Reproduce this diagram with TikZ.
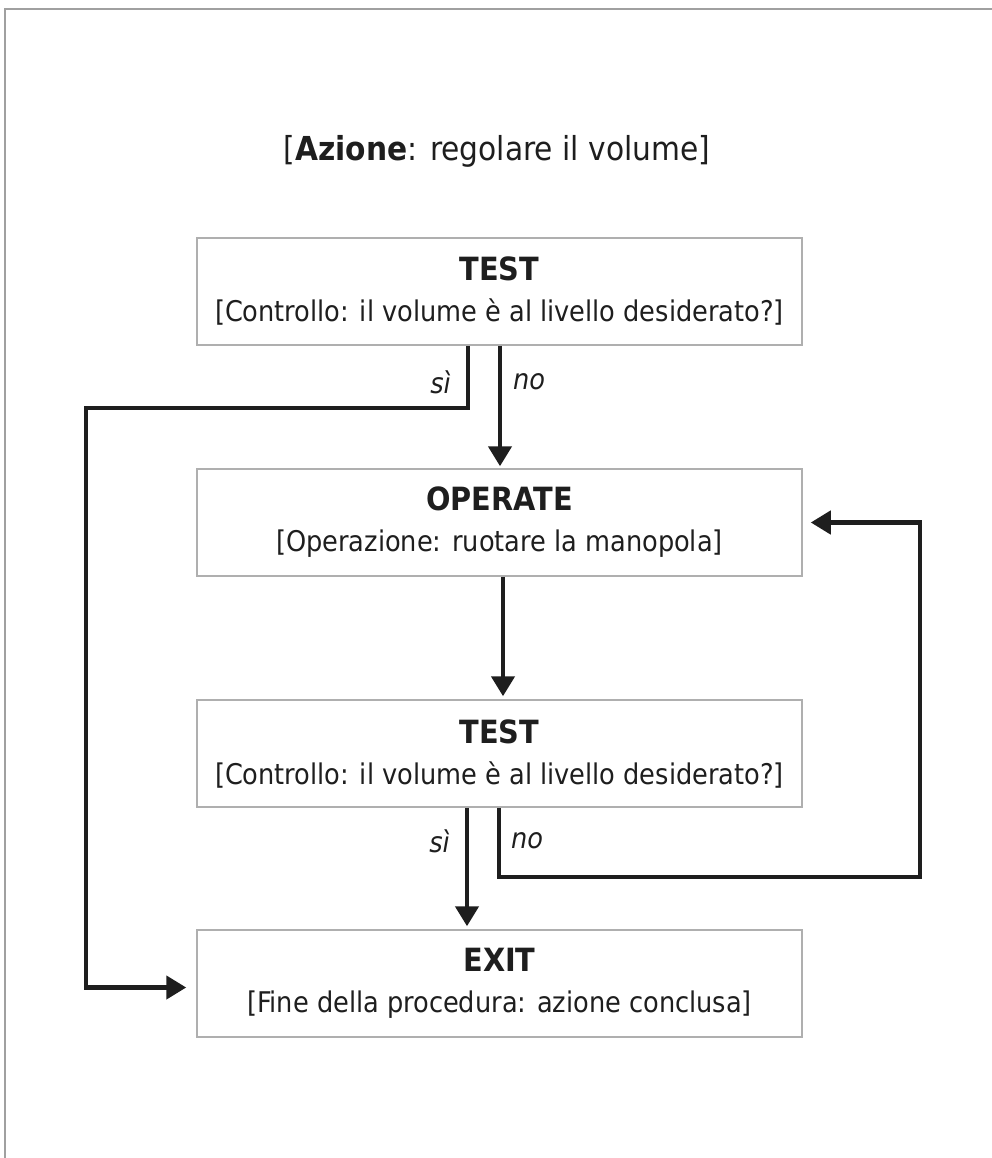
\documentclass[tikz,border=0pt]{standalone}
\usepackage{fontspec}
\setmainfont{DejaVu Sans Condensed}
\usetikzlibrary{arrows.meta}
\definecolor{boxgray}{RGB}{175,175,175}
\definecolor{framegray}{RGB}{160,160,160}
\definecolor{ink}{RGB}{30,30,30}
\newcommand{\boxtext}[2]{%
  {\fontsize{32}{41}\selectfont\bfseries #1}\\[0pt]%
  #2}

\begin{document}
\begin{tikzpicture}[x=1pt,y=-1pt,
  tote/.style={draw=boxgray,text=ink,line width=1.5pt,minimum width=605pt,minimum height=107pt,align=center,inner sep=0pt,
    font=\fontsize{28.5}{41}\selectfont},
  flow/.style={ink,line width=4.5pt,-{Triangle[length=20pt,width=23pt]}},
  answer/.style={text=ink,font=\fontsize{28.5}{34}\selectfont\itshape,inner sep=0pt}]
					%FRAME
					\useasboundingbox (0,0) rectangle (992,1158);
					\draw[framegray,line width=2pt] (5,1158) -- (5,9) -- (992,9);
					%TITLE
					\node[anchor=base,text=ink] (title) at (497,161) {\fontsize{33}{40}\selectfont[\textbf{Azione}: regolare il volume]};
					%BOXES
					\node[tote] (test1) at (499.5,291.5) {\boxtext{TEST}{[Controllo: il volume è al livello desiderato?]}};
					\node[tote] (operate) at (499.5,522.5) {\boxtext{OPERATE}{[Operazione: ruotare la manopola]}};
					\node[tote] (test2) at (499.5,753.5) {\boxtext{TEST}{[Controllo: il volume è al livello desiderato?]}};
					\node[tote] (exit) at (499.5,983.5) {\boxtext{EXIT}{[Fine della procedura: azione conclusa]}};
					%TURNS
					\coordinate (siup) at (468,408);
					\coordinate (sileft) at (86,408);
					\coordinate (nodown) at (499,877);
					\coordinate (noright) at (920,877);
					\coordinate (noline) at (500,0);
					\coordinate (opline) at (503,0);
					\coordinate (siline) at (467,0);
					%ARROWS
					\draw[flow,shorten >=10pt] (test1.south -| siup) -- (siup) -- (sileft) |- ([yshift=-4pt]exit.west);
					\draw[flow,shorten >=2pt] (test1.south -| noline) -- (operate.north -| noline);
					\draw[flow,shorten >=3pt] (operate.south -| opline) -- (test2.north -| opline);
					\draw[flow,shorten >=3pt] (test2.south -| siline) -- (exit.north -| siline);
					\draw[flow,shorten >=8pt] (test2.south -| nodown) -- (nodown) -- (noright) |- (operate.east);
					%LABELS
					\node[answer,anchor=east] (si1) at (451,382) {sì};
					\node[answer,anchor=west] (no1) at (513,382) {no};
					\node[answer,anchor=east] (si2) at (450,841) {sì};
					\node[answer,anchor=west] (no2) at (511,841) {no};
\end{tikzpicture}
\end{document}
